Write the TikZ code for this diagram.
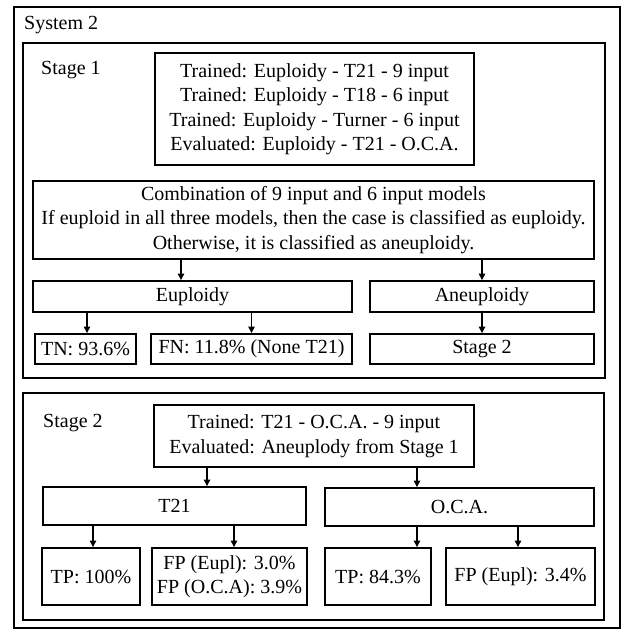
\documentclass[tikz,border=0pt]{standalone}
\usepackage{fontspec}
\setmainfont{Liberation Serif}
\usetikzlibrary{arrows.meta}
\tikzset{
  box/.style={draw, line width=1.9pt, inner sep=0pt, align=center,
    font=\fontsize{20}{24.5}\selectfont},
  frame/.style={draw, line width=1.9pt},
  lbl/.style={anchor=west, inner sep=0pt, font=\fontsize{20}{24.5}\selectfont},
  arr/.style={-{Triangle[length=6.5pt,width=6.5pt]}, line width=1.2pt},
}

\begin{document}
\begin{tikzpicture}[x=1pt,y=-1pt]
  \useasboundingbox (0,0) rectangle (624,630);

  % outer frame and the two stages
  \draw[frame] (14,7) rectangle (620,628);
  \node[lbl] (sys) at (24,25) {System 2};
  \draw[frame] (23,43) rectangle (605,378);
  \node[lbl] (st1lab) at (41,70) {Stage 1};
  \draw[frame] (23,393) rectangle (604,620);
  \node[lbl] (st2lab) at (43,423) {Stage 2};

  % stage 1
  \node[box, minimum width=319pt, minimum height=112pt] (s1train) at (314.5,109)
    {Trained: Euploidy - T21 - 9 input\\Trained: Euploidy - T18 - 6 input\\
     Trained: Euploidy - Turner - 6 input\\Evaluated: Euploidy - T21 - O.C.A.};
  \node[box, minimum width=561pt, minimum height=78pt] (combo) at (313.5,220)
    {Combination of 9 input and 6 input models\\
     If euploid in all three models, then the case is classified as euploidy.\\
     Otherwise, it is classified as aneuploidy.};
  \node[box, minimum width=319pt, minimum height=31pt] (eup) at (192.5,296.5) {Euploidy};
  \node[box, minimum width=224pt, minimum height=31pt] (aneu) at (482,296.5) {Aneuploidy};
  \node[box, minimum width=101pt, minimum height=30pt] (tn) at (85.5,349) {TN: 93.6\%};
  \node[box, minimum width=201pt, minimum height=30pt] (fn) at (251.5,349) {FN: 11.8\% (None T21)};
  \node[box, minimum width=224pt, minimum height=30pt] (nxt) at (482,349) {Stage 2};

  \draw[arr] (combo.south -| 181,0) -- (eup.north -| 181,0);
  \draw[arr] (combo.south -| aneu.north) -- (aneu.north);
  \draw[arr] (eup.south -| 87,0) -- (tn.north -| 87,0);
  \draw[arr] (eup.south -| fn.north) -- (fn.north);
  \draw[arr] (aneu.south) -- (nxt.north);

  % stage 2
  \node[box, minimum width=320pt, minimum height=62pt] (s2train) at (314,436)
    {Trained: T21 - O.C.A. - 9 input\\Evaluated: Aneuplody from Stage 1};
  \node[box, minimum width=263pt, minimum height=38pt] (t21) at (174.5,506) {T21};
  \node[box, minimum width=269pt, minimum height=38pt] (oca) at (459.5,507) {O.C.A.};
  \node[box, minimum width=98pt, minimum height=57pt] (tp1) at (91,576.5) {TP: 100\%};
  \node[box, minimum width=155pt, minimum height=57pt] (fp1) at (229.5,576.5)
    {FP (Eupl): 3.0\%\\FP (O.C.A): 3.9\%};
  \node[box, minimum width=106pt, minimum height=57pt] (tp2) at (378,576.5) {TP: 84.3\%};
  \node[box, minimum width=149pt, minimum height=57pt] (fp2) at (520.5,576.5) {FP (Eupl): 3.4\%};

  \draw[arr] (s2train.south -| 207,0) -- (t21.north -| 207,0);
  \draw[arr] (s2train.south -| 417,0) -- (oca.north -| 417,0);
  \draw[arr] (t21.south -| 93,0) -- (tp1.north -| 93,0);
  \draw[arr] (t21.south -| 234,0) -- (fp1.north -| 234,0);
  \draw[arr] (oca.south -| 417,0) -- (tp2.north -| 417,0);
  \draw[arr] (oca.south -| 518,0) -- (fp2.north -| 518,0);
\end{tikzpicture}
\end{document}
